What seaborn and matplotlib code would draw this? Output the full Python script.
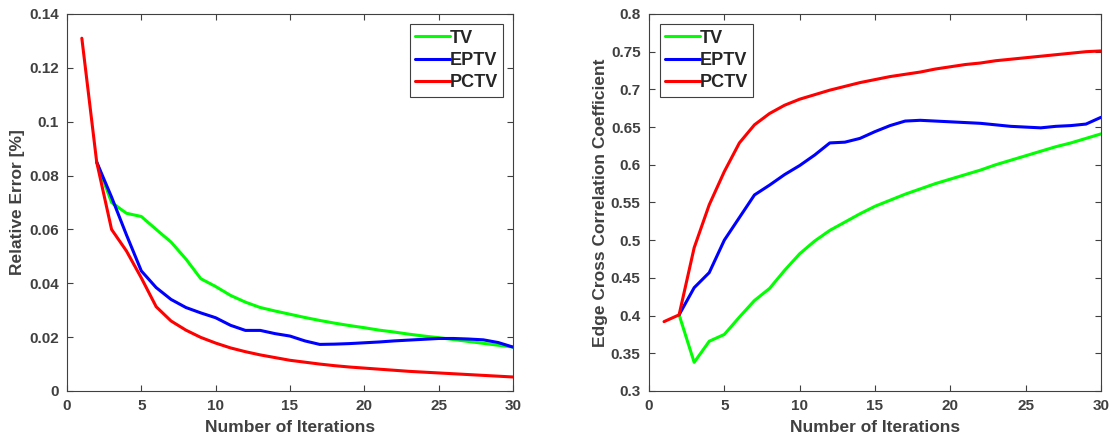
import numpy as np
import pandas as pd
import matplotlib
matplotlib.use("Agg")
import matplotlib.pyplot as plt
import seaborn as sns

# iterations
it_red = list(range(1, 31))
it_other = list(range(2, 31))

# relative error [%]
err_tv = [0.085, 0.070, 0.066, 0.0648, 0.060, 0.0553, 0.049, 0.0417, 0.0388, 0.0355,
          0.033, 0.031, 0.0297, 0.0285, 0.0273, 0.0262, 0.0252, 0.0243, 0.0235, 0.0226,
          0.0219, 0.0211, 0.0204, 0.0198, 0.0191, 0.0184, 0.0177, 0.0170, 0.0163]
err_eptv = [0.085, 0.072, 0.058, 0.0446, 0.0384, 0.034, 0.031, 0.029, 0.0272, 0.0244,
            0.0225, 0.0225, 0.0213, 0.0204, 0.0186, 0.0173, 0.0174, 0.0176, 0.0179, 0.0182,
            0.0186, 0.0189, 0.0192, 0.0195, 0.0195, 0.0193, 0.019, 0.018, 0.0163]
err_pctv = [0.131, 0.085, 0.060, 0.052, 0.042, 0.0313, 0.026, 0.0226, 0.0199, 0.0178,
            0.016, 0.0146, 0.0134, 0.0124, 0.0114, 0.0107, 0.0100, 0.0094, 0.0089, 0.0085,
            0.0081, 0.0077, 0.0073, 0.0070, 0.0067, 0.0064, 0.0061, 0.0058, 0.0055, 0.0052]

# edge cross correlation coefficient
ecc_tv = [0.401, 0.338, 0.366, 0.375, 0.398, 0.420, 0.436, 0.460, 0.482, 0.499,
          0.513, 0.524, 0.535, 0.545, 0.553, 0.561, 0.568, 0.575, 0.581, 0.587,
          0.593, 0.600, 0.606, 0.612, 0.618, 0.624, 0.629, 0.635, 0.641]
ecc_eptv = [0.401, 0.437, 0.457, 0.500, 0.530, 0.560, 0.573, 0.587, 0.599, 0.613,
            0.629, 0.630, 0.635, 0.644, 0.652, 0.658, 0.659, 0.658, 0.657, 0.656,
            0.655, 0.653, 0.651, 0.650, 0.649, 0.651, 0.652, 0.654, 0.663]
ecc_pctv = [0.392, 0.401, 0.490, 0.547, 0.591, 0.629, 0.653, 0.668, 0.679, 0.687,
            0.693, 0.699, 0.704, 0.709, 0.713, 0.717, 0.720, 0.723, 0.727, 0.730,
            0.733, 0.735, 0.738, 0.740, 0.742, 0.744, 0.746, 0.748, 0.750, 0.751]

sns.set_style("ticks")
plt.rcParams['font.family'] = ['Liberation Sans', 'DejaVu Sans']
plt.rcParams['font.weight'] = 'bold'
plt.rcParams['axes.labelweight'] = 'bold'

fig = plt.figure(figsize=(11.16, 4.47), dpi=100)
ax1 = fig.add_axes([0.060, 0.1253, 0.3997, 0.8434])
ax2 = fig.add_axes([0.5815, 0.1253, 0.4051, 0.8434])

series = [("TV", "#00ff00"), ("EPTV", "#0000ff"), ("PCTV", "#ff0000")]
gray = "#404040"

def draw(ax, data):
    for (name, col), (xs, ys) in zip(series, data):
        sns.lineplot(x=xs, y=ys, ax=ax, color=col, linewidth=2.2, label=name)

draw(ax1, [(it_other, err_tv), (it_other, err_eptv), (it_red, err_pctv)])
draw(ax2, [(it_other, ecc_tv), (it_other, ecc_eptv), (it_red, ecc_pctv)])

ax1.set_xlim(0, 30)
ax1.set_ylim(0, 0.14)
ax1.set_yticks(np.arange(0, 0.141, 0.02))
ax1.set_yticklabels(["0", "0.02", "0.04", "0.06", "0.08", "0.1", "0.12", "0.14"])
ax1.set_ylabel("Relative Error [%]", fontsize=12.5, color=gray, labelpad=3)

ax2.set_xlim(0, 30)
ax2.set_ylim(0.3, 0.8)
ax2.set_yticks(np.arange(0.3, 0.801, 0.05))
ax2.set_yticklabels(["0.3", "0.35", "0.4", "0.45", "0.5", "0.55", "0.6", "0.65",
                     "0.7", "0.75", "0.8"])
ax2.set_ylabel("Edge Cross Correlation Coefficient", fontsize=12.5, color=gray,
               labelpad=2)

for ax in (ax1, ax2):
    ax.set_xticks(range(0, 31, 5))
    ax.set_xlabel("Number of Iterations", fontsize=12.5, color=gray, labelpad=5)
    ax.tick_params(direction="in", top=True, right=True, labelsize=11,
                   colors=gray, length=4, width=0.8, pad=6)
    for sp in ax.spines.values():
        sp.set_visible(True)
        sp.set_color(gray)
        sp.set_linewidth(0.8)

leg_kw = dict(fontsize=13, frameon=True, fancybox=False, edgecolor=gray,
              framealpha=1, handlelength=1.9, handletextpad=0.0,
              borderpad=0.3, labelspacing=0.3, borderaxespad=0.0)
leg1 = ax1.legend(loc="upper right", bbox_to_anchor=(0.978, 0.973), **leg_kw)
leg2 = ax2.legend(loc="upper left", bbox_to_anchor=(0.024, 0.973), **leg_kw)
for leg in (leg1, leg2):
    leg.get_frame().set_linewidth(0.8)

fig.savefig("out.png", dpi=100)
